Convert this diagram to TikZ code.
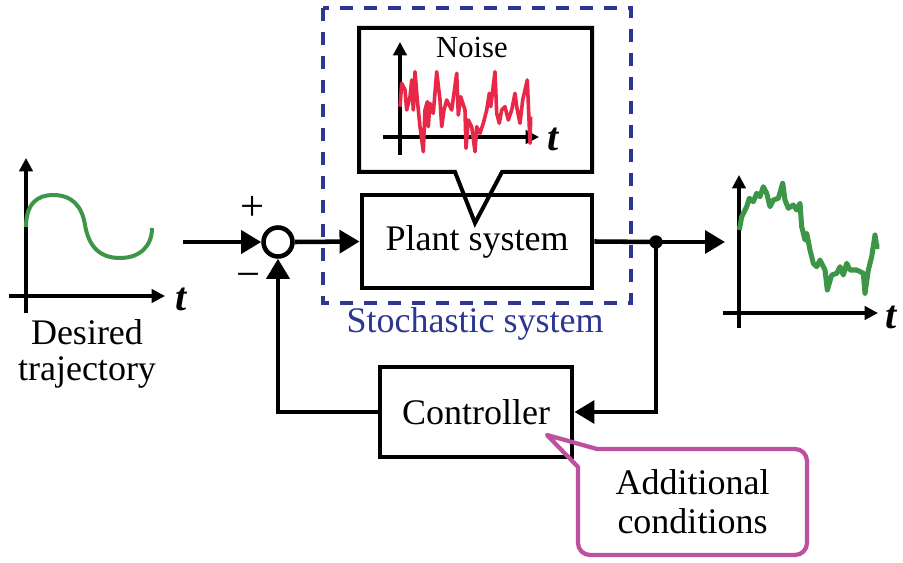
\documentclass[tikz,border=0pt]{standalone}
\usepackage{fontspec}
\setmainfont{Liberation Serif}
\usetikzlibrary{arrows.meta}
\definecolor{curvegreen}{RGB}{61,150,72}
\definecolor{noisered}{RGB}{232,40,72}
\definecolor{stochblue}{RGB}{45,55,145}
\definecolor{condmag}{RGB}{190,80,160}
\tikzset{
  lbl/.style={font=\fontsize{27}{31}\selectfont, align=center, inner sep=0pt},
  tlbl/.style={font=\fontsize{30}{31}\selectfont\bfseries\itshape, inner sep=0pt},
  blockbox/.style={draw, line width=3.7pt, lbl, fill=white},
  conn/.style={line width=3.4pt},
  arr/.style={conn, -{Triangle[length=15pt,width=17pt]}},
  axis/.style={line width=2.3pt, -{Triangle[length=10pt,width=10pt]}},
}
\begin{document}
\begin{tikzpicture}[x=0.75pt,y=-0.75pt]
\useasboundingbox (0,0) rectangle (903,563);

% stochastic system frame
\draw[stochblue, line width=3pt, dash pattern=on 9.75pt off 8.25pt] (323,8) rectangle (631,303);
\node[lbl, text=stochblue] (stoch) at (475,324) {Stochastic system};

% noise callout
\draw[line width=3pt, line join=miter, fill=white] (359,28) -- (592,28) -- (592,172) -- (502,172) -- (475,223) -- (455,172) -- (359,172) -- cycle;
\node[font=\fontsize{23}{26}\selectfont, inner sep=0pt] (noiselbl) at (472,47) {Noise};
\draw[axis] (383,137) -- (539,137);
\draw[axis] (400,155) -- (400,42);
\node[tlbl] (tn) at (553,139) {t};
\draw[noisered, line width=2.7pt, line join=round] (400,106.7) -- (401.7,83.3) -- (405,90) -- (406.7,110) -- (410,96.7) -- (411.7,80) -- (413.3,110) -- (415,71.7) -- (417.3,100) -- (420,126.7) -- (423.3,151.7) -- (425,110) -- (427.3,101.7) -- (428.3,126.7) -- (430,103.3) -- (433.3,113.3) -- (436.7,71.7) -- (440,100) -- (441.7,126.7) -- (444,110) -- (446.7,100) -- (451.7,110) -- (456.7,73.3) -- (458.3,115) -- (460.7,96.7) -- (465,110) -- (466,148.3) -- (468.3,120) -- (471.7,126.7) -- (475,151.7) -- (476.7,126.7) -- (480,133.3) -- (483.3,123.3) -- (486.7,110) -- (489.3,93.3) -- (490.7,106.7) -- (495,71.7) -- (496.7,113.3) -- (499.3,123.3) -- (501.7,110) -- (505,106.7) -- (508.3,120) -- (511.7,110) -- (515,93.3) -- (516.7,106.7) -- (520,123.3) -- (522.7,100) -- (527.3,80) -- (530,143.3) -- (530.7,116.7);

% blocks
\node[blockbox, minimum width=172.5pt, minimum height=69.75pt, fill=none] (plant) at (477,241.5) {Plant system};
\node[blockbox, minimum width=144pt, minimum height=67.5pt] (ctrl) at (476,412) {Controller};
\node[draw, circle, line width=3.4pt, minimum size=21.75pt, inner sep=0pt, fill=white] (sum) at (278,242) {};
\node[font=\fontsize{32}{34}\selectfont, inner sep=0pt] (plus) at (253,208) {+};
\node[font=\fontsize{32}{34}\selectfont, inner sep=0pt] (minus) at (249,281) {−};

% input plot
\draw[axis] (9,296) -- (165,296);
\draw[axis] (26,313) -- (26,158);
\node[tlbl] (t1) at (181,299) {t};
\draw[curvegreen, line width=3pt] (26,227) .. controls (26,203) and (38,195) .. (53,195) .. controls (72,195) and (82,206) .. (85,225) .. controls (89,248) and (101,258) .. (120,258) .. controls (140,258) and (152,246) .. (152,228);
\node[lbl] (desired) at (87,354) {Desired\\[-4pt]trajectory};

% output plot
\draw[axis] (723,313) -- (878,313);
\draw[axis] (739,328) -- (739,175);
\node[tlbl] (t2) at (891,317) {t};
\draw[curvegreen, line width=3.8pt, line join=round] (739.3,230) -- (741.7,216.7) -- (746.7,206.7) -- (749.3,198.3) -- (753.3,201.7) -- (756.7,193.3) -- (760,196.7) -- (763.3,186.7) -- (766.7,193.3) -- (770,206.7) -- (773.3,200) -- (778.3,198.3) -- (782.7,183.3) -- (785,200) -- (788.3,208.3) -- (793.3,205) -- (796.7,210) -- (800,203.3) -- (801.7,226.7) -- (805,240) -- (806.7,233.3) -- (810,250) -- (813.3,263.3) -- (816.7,266.7) -- (820,260) -- (825,270) -- (827.3,290) -- (831.7,275) -- (836.7,273.3) -- (840,266.7) -- (843.3,275) -- (846.7,263.3) -- (850,270) -- (856.7,270) -- (863.3,273.3) -- (865,293.3) -- (868.3,270) -- (871.7,256.7) -- (875,235) -- (876.7,246.7) -- (879.3,246.7);

% connectors
\coordinate (in) at (183,242);
\coordinate (out) at (725,242);
\coordinate (split) at (656,242);
\draw[arr] (in) -- (sum.west);
\draw[arr] (sum.east) -- (plant.west);
\draw[conn] (plant.east) -- (split);
\draw[arr] (split) -- (out);
\fill (split) circle (5pt);
\draw[arr] (split) |- (ctrl.east);
\draw[arr] (ctrl.west) -| (sum.south);

% additional conditions callout
\node[draw=condmag, line width=3.2pt, rounded corners=9pt, lbl, minimum width=171.75pt, minimum height=79.5pt, fill=white] (cond) at (692.5,502) {Additional\\[-2pt]conditions};
\fill[white] (576,446) rectangle (597,467);
\draw[condmag, line width=3.2pt, line join=round, line cap=round] (597,449) -- (547,435) -- (578,467);
\end{tikzpicture}
\end{document}
